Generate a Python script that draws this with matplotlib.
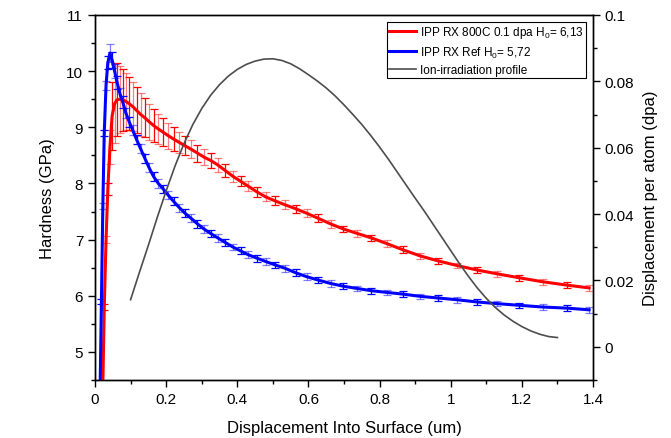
import numpy as np
import matplotlib
matplotlib.use("Agg")
from matplotlib import pyplot as plt
from matplotlib.ticker import MultipleLocator, FuncFormatter

plt.rcParams['font.family'] = ['Liberation Sans', 'DejaVu Sans']
plt.rcParams['mathtext.fontset'] = 'custom'
plt.rcParams['mathtext.rm'] = 'Liberation Sans'
plt.rcParams['mathtext.it'] = 'Liberation Sans:italic'

# depth of the averaged points (um), same for both samples
DEPTH = [0.010, 0.014, 0.018, 0.022, 0.026, 0.031, 0.036, 0.042, 0.048, 0.055,
         0.062, 0.070, 0.078, 0.087, 0.096, 0.106, 0.117, 0.128, 0.140, 0.152,
         0.165, 0.178, 0.192, 0.206, 0.221, 0.237, 0.253, 0.270, 0.288, 0.306,
         0.325, 0.345, 0.366, 0.387, 0.409, 0.431, 0.455, 0.480, 0.506, 0.534,
         0.564, 0.595, 0.627, 0.662, 0.698, 0.737, 0.777, 0.820, 0.865, 0.914,
         0.965, 1.017, 1.073, 1.131, 1.193, 1.258, 1.326, 1.389]

# IPP RX 800C 0.1 dpa
H_IRR = [1.0, 2.0, 3.3, 4.4, 5.8, 7.0, 7.9, 8.65, 9.2, 9.42,
         9.49, 9.5, 9.49, 9.46, 9.42, 9.37, 9.3, 9.23, 9.17, 9.1,
         9.03, 8.97, 8.91, 8.85, 8.79, 8.73, 8.67, 8.61, 8.54, 8.47,
         8.41, 8.33, 8.23, 8.13, 8.04, 7.95, 7.85, 7.76, 7.69, 7.62,
         7.55, 7.47, 7.38, 7.28, 7.19, 7.11, 7.03, 6.93, 6.82, 6.71,
         6.62, 6.54, 6.46, 6.39, 6.32, 6.25, 6.19, 6.14]
ERR_IRR = [0.05, 0.05, 0.05, 0.05, 0.05, 0.06, 0.1, 0.3, 0.6, 0.7,
           0.65, 0.6, 0.55, 0.5, 0.47, 0.44, 0.41, 0.38, 0.35, 0.32,
           0.29, 0.27, 0.25, 0.23, 0.21, 0.19, 0.17, 0.16, 0.15, 0.14,
           0.13, 0.12, 0.11, 0.1, 0.09, 0.09, 0.09, 0.08, 0.08, 0.08,
           0.07, 0.07, 0.07, 0.07, 0.06, 0.06, 0.06, 0.06, 0.06, 0.06,
           0.05, 0.05, 0.05, 0.05, 0.05, 0.05, 0.05, 0.05]

# IPP RX Ref
H_REF = [3.0, 4.2, 5.9, 7.6, 8.9, 9.75, 10.15, 10.32, 10.2, 10.0,
         9.8, 9.6, 9.45, 9.25, 9.1, 8.95, 8.78, 8.62, 8.45, 8.28,
         8.12, 8.0, 7.9, 7.79, 7.68, 7.57, 7.47, 7.38, 7.28, 7.19,
         7.11, 7.03, 6.95, 6.87, 6.8, 6.73, 6.67, 6.61, 6.55, 6.49,
         6.41, 6.34, 6.28, 6.22, 6.17, 6.13, 6.09, 6.06, 6.03, 5.99,
         5.96, 5.93, 5.89, 5.86, 5.83, 5.8, 5.78, 5.75]
ERR_REF = [0.05, 0.05, 0.05, 0.05, 0.06, 0.08, 0.12, 0.16, 0.14, 0.12,
           0.11, 0.1, 0.1, 0.09, 0.09, 0.09, 0.08, 0.08, 0.08, 0.08,
           0.08, 0.08, 0.07, 0.07, 0.07, 0.07, 0.07, 0.07, 0.07, 0.07,
           0.07, 0.07, 0.06, 0.06, 0.06, 0.06, 0.06, 0.06, 0.06, 0.06,
           0.06, 0.06, 0.06, 0.06, 0.05, 0.05, 0.05, 0.05, 0.05, 0.05,
           0.05, 0.05, 0.05, 0.05, 0.05, 0.05, 0.05, 0.05]

PROF_X = [0.1, 0.125, 0.15, 0.175, 0.2, 0.225, 0.25, 0.275, 0.3, 0.325,
          0.35, 0.375, 0.4, 0.425, 0.45, 0.475, 0.5, 0.525, 0.55, 0.575,
          0.6, 0.625, 0.65, 0.675, 0.7, 0.725, 0.75, 0.775, 0.8, 0.825,
          0.85, 0.875, 0.9, 0.925, 0.95, 0.975, 1.0, 1.025, 1.05, 1.075,
          1.1, 1.125, 1.15, 1.175, 1.2, 1.225, 1.25, 1.275, 1.3]
PROF_DPA = [0.0142, 0.0225, 0.0306, 0.0390, 0.0470, 0.0545, 0.0612, 0.0670, 0.0718, 0.0758,
            0.0790, 0.0816, 0.0836, 0.0851, 0.0861, 0.0867, 0.0868, 0.0863, 0.0853, 0.0838,
            0.0820, 0.0801, 0.0780, 0.0756, 0.0729, 0.0700, 0.0670, 0.0637, 0.0602, 0.0565,
            0.0526, 0.0487, 0.0448, 0.0410, 0.0370, 0.0330, 0.0290, 0.0250, 0.0212, 0.0177,
            0.0146, 0.0119, 0.0096, 0.0077, 0.0061, 0.0048, 0.0038, 0.0031, 0.0028]

RED = '#ff0000'
BLUE = '#0000ff'


def draw_series(ax, x, y, err, color, label):
    x = np.array(x)
    y = np.array(y)
    err = np.array(err)
    # every second bar looks lighter in the original
    for start, alpha in ((0, 1.0), (1, 0.5)):
        ax.errorbar(x[start::2], y[start::2], yerr=err[start::2], fmt='none',
                    ecolor=color, elinewidth=0.9, capsize=2.6, capthick=0.9,
                    alpha=alpha, zorder=2)
    ax.plot(x, y, color=color, lw=2.2, label=label, zorder=3)


fig = plt.figure(figsize=(6.71, 4.39), dpi=100)
ax = fig.add_axes([0.1416, 0.1321, 0.7422, 0.8315])
ax2 = ax.twinx()

draw_series(ax, DEPTH, H_IRR, ERR_IRR, RED, 'IPP RX 800C 0.1 dpa H$_0$= 6,13')
draw_series(ax, DEPTH, H_REF, ERR_REF, BLUE, 'IPP RX Ref H$_0$= 5,72')
ax2.plot(PROF_X, PROF_DPA, color='#4d4d4d', lw=1.2, label='Ion-irradiation profile')

ax.set_xlim(0, 1.4)
ax.set_ylim(4.5, 11)
ax2.set_ylim(-0.01, 0.1)

ax.xaxis.set_major_locator(MultipleLocator(0.2))
ax.xaxis.set_minor_locator(MultipleLocator(0.1))
ax.xaxis.set_major_formatter(FuncFormatter(lambda v, p: f"{v:g}"))
ax.yaxis.set_major_locator(MultipleLocator(1))
ax.yaxis.set_minor_locator(MultipleLocator(0.5))
ax2.yaxis.set_major_locator(MultipleLocator(0.02))
ax2.yaxis.set_minor_locator(MultipleLocator(0.01))
ax2.yaxis.set_major_formatter(FuncFormatter(lambda v, p: f"{v:g}"))

for a in (ax, ax2):
    a.tick_params(which='major', direction='out', length=5, width=1, labelsize=11)
    a.tick_params(which='minor', direction='out', length=3, width=1)
    for s in a.spines.values():
        s.set_linewidth(1)

ax.set_xlabel('Displacement Into Surface (um)', fontsize=12, labelpad=10)
ax.set_ylabel('Hardness (GPa)', fontsize=12, labelpad=8)
ax2.set_ylabel('Displacement per atom (dpa)', fontsize=12, labelpad=6)

h1, l1 = ax.get_legend_handles_labels()
h2, l2 = ax2.get_legend_handles_labels()
leg = ax2.legend(h1 + h2, l1 + l2, loc='upper right', fontsize=8.5,
                 frameon=True, fancybox=False, framealpha=1,
                 borderpad=0.2, labelspacing=0.35, handlelength=2.3,
                 handletextpad=0.3, borderaxespad=0.6)
leg.get_frame().set_edgecolor('black')
leg.get_frame().set_linewidth(0.8)

fig.savefig('out.png', dpi=100)
